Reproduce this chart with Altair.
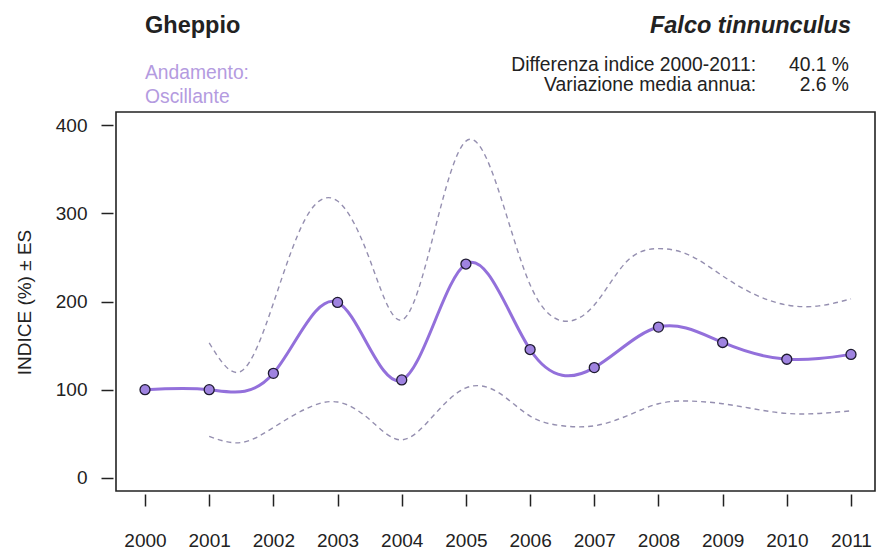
import altair as alt
import pandas as pd

# ---- data ----
years = [2000, 2001, 2002, 2003, 2004, 2005, 2006, 2007, 2008, 2009, 2010, 2011]
index_vals = [100, 100, 118.5, 199, 111, 242.5, 145.5, 125, 171, 153.5, 134.5, 140]

band_x = [2001, 2001.5, 2002, 2002.5, 2003, 2003.5, 2004, 2004.5, 2005, 2005.5,
          2006, 2006.5, 2007, 2007.5, 2008, 2008.5, 2009, 2009.5, 2010, 2010.5, 2011]
upper_vals = [153, 121, 198, 294, 314, 248, 179, 277, 382, 328,
              219, 178, 196, 245, 260, 252, 229, 208, 196, 195, 203]
lower_vals = [47, 40, 57, 78, 86, 66, 43, 71, 102, 97,
              70, 59, 59, 70, 84, 87, 84, 78, 73, 73, 76]

y_ticks = [0, 100, 200, 300, 400]

FONT = "Liberation Sans"
PURPLE = "#9370db"
DASH = "#958fb0"
LIGHT = "#b49be0"

main_df = pd.DataFrame({"anno": years, "indice": index_vals})
band_df = pd.concat([
    pd.DataFrame({"anno": band_x, "valore": upper_vals, "serie": "sup"}),
    pd.DataFrame({"anno": band_x, "valore": lower_vals, "serie": "inf"}),
])

xscale = alt.Scale(domain=[1999.548, 2011.374], nice=False, zero=False)
yscale = alt.Scale(domain=[-15, 415], nice=False, zero=False)

xaxis = alt.Axis(values=years, format="d", title=None, domain=False, grid=False,
                 ticks=True, tickSize=12, tickWidth=1.5, tickColor="#222",
                 offset=3, labelPadding=25, labelFontSize=19, labelFont=FONT,
                 labelColor="#222")
yaxis = alt.Axis(values=y_ticks, title="INDICE (%) ± ES", domain=False, grid=False,
                 ticks=True, tickSize=12, tickWidth=1.5, tickColor="#222",
                 offset=3, labelPadding=14, labelFontSize=19, labelFont=FONT,
                 labelColor="#222", titleFont=FONT, titleFontSize=19,
                 titleFontWeight="normal", titleColor="#222",
                 titleX=-89, titleY=190, titleAngle=270,
                 titleAlign="center", titleBaseline="middle")

bands = alt.Chart(band_df).mark_line(
    interpolate="natural", color=DASH, strokeDash=[5, 4], strokeWidth=1.4
).encode(
    x=alt.X("anno:Q", scale=xscale, axis=xaxis),
    y=alt.Y("valore:Q", scale=yscale, axis=yaxis),
    detail="serie:N",
)

line = alt.Chart(main_df).mark_line(
    interpolate="natural", color=PURPLE, strokeWidth=3
).encode(
    x=alt.X("anno:Q", scale=xscale),
    y=alt.Y("indice:Q", scale=yscale),
)

points = alt.Chart(main_df).mark_point(
    filled=True, fill="#9f83e0", stroke="#1e1a30", strokeWidth=1.3,
    size=100, opacity=1, shape="circle"
).encode(
    x=alt.X("anno:Q", scale=xscale),
    y=alt.Y("indice:Q", scale=yscale),
)


def label(text, x, y, align="left", color="#222", size=19.3, weight="normal", style="normal"):
    return alt.Chart(pd.DataFrame({"t": [text]})).mark_text(
        align=align, baseline="alphabetic", font=FONT, fontSize=size,
        fontWeight=weight, fontStyle=style, color=color
    ).encode(text="t:N", x=alt.value(x), y=alt.value(y))


texts = [
    label("Gheppio", 29, -79, weight="bold", size=23.5),
    label("Falco tinnunculus", 735, -79, align="right", weight="bold", style="italic", size=23.5),
    label("Andamento:", 29, -33, color=LIGHT),
    label("Oscillante", 29, -9, color=LIGHT),
    label("Differenza indice 2000-2011:", 640, -41, align="right"),
    label("40.1 %", 733, -41, align="right"),
    label("Variazione media annua:", 640, -21, align="right"),
    label("2.6 %", 733, -21, align="right"),
]

chart = alt.layer(bands, line, points, *texts).properties(
    width=759, height=379,
    autosize=alt.AutoSizeParams(type="none"),
    padding={"left": 116, "top": 112, "right": 1, "bottom": 60},
    background="white",
).configure_view(stroke="#222", strokeWidth=1.6)

chart.save("out.html", embed_options={"renderer": "svg", "actions": False})
